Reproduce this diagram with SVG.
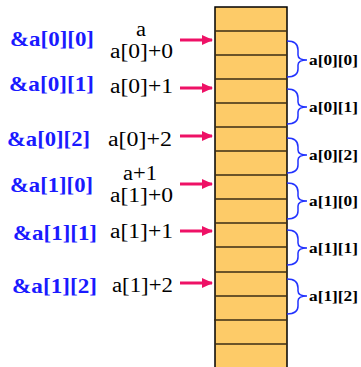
<svg xmlns="http://www.w3.org/2000/svg" width="361" height="367" viewBox="0 0 361 367">
<style>
text{font-family:'Liberation Serif','Times New Roman',serif}
.addr{font-weight:bold;font-size:22px;fill:#1a1aff}
.expr{font-size:20.5px;fill:#000}
.lbl{font-weight:bold;font-size:15.5px;fill:#000}
.row{stroke:#3a2c14;stroke-width:1.6}
.arr{stroke:#ee1166;stroke-width:3;fill:none}
.brace{stroke:#2233ff;stroke-width:1.5;fill:none}
</style>
<defs>
<marker id="ah" markerWidth="12" markerHeight="12" refX="10" refY="6" orient="auto" markerUnits="userSpaceOnUse">
<path d="M0,1 L11,6 L0,11 Z" fill="#ee1166"/>
</marker>
</defs>
<g id="memory">
<rect x="215" y="7" width="72" height="370" fill="#fdcb68" stroke="#000" stroke-width="1.5"/>
<line class="row" x1="215" y1="31" x2="287" y2="31"/>
<line class="row" x1="215" y1="55" x2="287" y2="55"/>
<line class="row" x1="215" y1="79" x2="287" y2="79"/>
<line class="row" x1="215" y1="103" x2="287" y2="103"/>
<line class="row" x1="215" y1="127" x2="287" y2="127"/>
<line class="row" x1="215" y1="151" x2="287" y2="151"/>
<line class="row" x1="215" y1="175" x2="287" y2="175"/>
<line class="row" x1="215" y1="199" x2="287" y2="199"/>
<line class="row" x1="215" y1="223" x2="287" y2="223"/>
<line class="row" x1="215" y1="247" x2="287" y2="247"/>
<line class="row" x1="215" y1="272" x2="287" y2="272"/>
<line class="row" x1="215" y1="296" x2="287" y2="296"/>
<line class="row" x1="214" y1="320" x2="287" y2="320"/>
<line class="row" x1="215" y1="344" x2="287" y2="344"/>
</g>
<g id="addr-labels">
<text class="addr" x="10" y="46" textLength="84" lengthAdjust="spacingAndGlyphs">&amp;a[0][0]</text>
<text class="addr" x="9" y="91" textLength="85" lengthAdjust="spacingAndGlyphs">&amp;a[0][1]</text>
<text class="addr" x="7" y="146" textLength="83" lengthAdjust="spacingAndGlyphs">&amp;a[0][2]</text>
<text class="addr" x="10" y="192" textLength="83" lengthAdjust="spacingAndGlyphs">&amp;a[1][0]</text>
<text class="addr" x="13" y="240" textLength="84" lengthAdjust="spacingAndGlyphs">&amp;a[1][1]</text>
<text class="addr" x="12" y="293" textLength="85" lengthAdjust="spacingAndGlyphs">&amp;a[1][2]</text>
</g>
<g id="expr-labels">
<text class="expr" x="136" y="36" textLength="10" lengthAdjust="spacingAndGlyphs">a</text>
<text class="expr" x="110" y="58" textLength="63" lengthAdjust="spacingAndGlyphs">a[0]+0</text>
<text class="expr" x="110" y="93" textLength="63" lengthAdjust="spacingAndGlyphs">a[0]+1</text>
<text class="expr" x="108" y="146" textLength="64" lengthAdjust="spacingAndGlyphs">a[0]+2</text>
<text class="expr" x="123" y="180" textLength="34" lengthAdjust="spacingAndGlyphs">a+1</text>
<text class="expr" x="110" y="202" textLength="63" lengthAdjust="spacingAndGlyphs">a[1]+0</text>
<text class="expr" x="110" y="238" textLength="63" lengthAdjust="spacingAndGlyphs">a[1]+1</text>
<text class="expr" x="112" y="292" textLength="61" lengthAdjust="spacingAndGlyphs">a[1]+2</text>
</g>
<g id="connectors">
<line class="arr" x1="180" y1="40" x2="212" y2="40" marker-end="url(#ah)"/>
<line class="arr" x1="180" y1="88" x2="212" y2="88" marker-end="url(#ah)"/>
<line class="arr" x1="180" y1="136" x2="212" y2="136" marker-end="url(#ah)"/>
<line class="arr" x1="180" y1="184" x2="212" y2="184" marker-end="url(#ah)"/>
<line class="arr" x1="180" y1="231" x2="212" y2="231" marker-end="url(#ah)"/>
<line class="arr" x1="180" y1="283" x2="212" y2="283" marker-end="url(#ah)"/>
</g>
<g id="braces">
<path class="brace" d="M287,41 Q298,41 298,50 L298,55 Q298,60 307,60 Q298,60 298,65 L298,69 Q298,77 287,77"/>
<path class="brace" d="M287,89 Q298,89 298,98 L298,102 Q298,107 307,107 Q298,107 298,112 L298,116 Q298,124 287,124"/>
<path class="brace" d="M287,138 Q298,138 298,147 L298,150 Q298,155 307,155 Q298,155 298,160 L298,165 Q298,173 287,173"/>
<path class="brace" d="M287,183 Q298,183 298,192 L298,196 Q298,201 307,201 Q298,201 298,206 L298,211 Q298,219 287,219"/>
<path class="brace" d="M287,230 Q298,230 298,239 L298,243 Q298,248 307,248 Q298,248 298,253 L298,257 Q298,265 287,265"/>
<path class="brace" d="M287,279 Q298,279 298,288 L298,291 Q298,296 307,296 Q298,296 298,301 L298,306 Q298,314 287,314"/>
</g>
<g id="elem-labels">
<text class="lbl" x="309" y="65" textLength="49" lengthAdjust="spacingAndGlyphs">a[0][0]</text>
<text class="lbl" x="309" y="112" textLength="49" lengthAdjust="spacingAndGlyphs">a[0][1]</text>
<text class="lbl" x="309" y="160" textLength="49" lengthAdjust="spacingAndGlyphs">a[0][2]</text>
<text class="lbl" x="309" y="206" textLength="49" lengthAdjust="spacingAndGlyphs">a[1][0]</text>
<text class="lbl" x="309" y="253" textLength="49" lengthAdjust="spacingAndGlyphs">a[1][1]</text>
<text class="lbl" x="309" y="301" textLength="49" lengthAdjust="spacingAndGlyphs">a[1][2]</text>
</g>
</svg>
